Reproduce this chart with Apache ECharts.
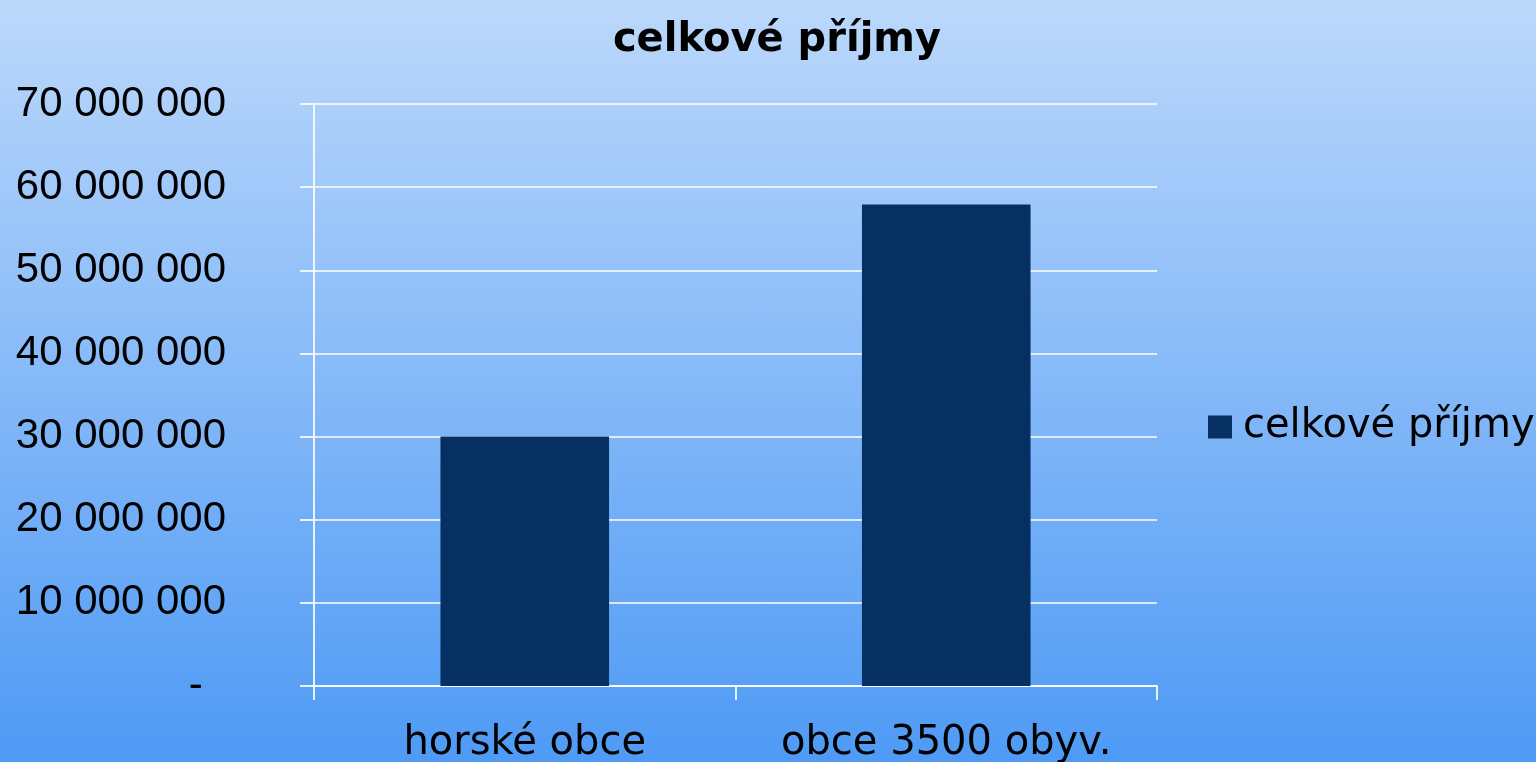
<!DOCTYPE html>
<html>
<head>
<meta charset="utf-8">
<script src="https://cdn.jsdelivr.net/npm/echarts@6/dist/echarts.min.js"></script>
<style>
    html, body { margin: 0; padding: 0; }
    #chart {
        width: 1536px;
        height: 762px;
        background: linear-gradient(to bottom, #bcd8fb 0%, #4e9af5 100%);
    }
</style>
</head>
<body>
<div id="chart"></div>
<script>
const titleText = 'celkové příjmy';
const seriesName = 'celkové příjmy';
const categories = ['horské obce', 'obce 3500 obyv.'];
const values = [30000000, 57900000];

const ins = echarts.init(document.getElementById('chart'));

function fmt(v) {
    if (v === 0) return '-  ';
    return String(v).replace(/\B(?=(\d{3})+(?!\d))/g, ' ');
}

const option = {
    backgroundColor: 'transparent',
    title: {
        text: titleText,
        left: 772,
        textAlign: 'center',
        top: 16,
        textStyle: {
            fontFamily: 'DejaVu Sans',
            fontWeight: 'bold',
            fontSize: 40,
            color: '#000'
        }
    },
    legend: {
        data: [seriesName],
        left: 1203,
        top: 402,
        itemWidth: 24,
        itemHeight: 23,
        icon: 'rect',
        textStyle: {
            fontFamily: 'DejaVu Sans',
            fontSize: 40,
            color: '#000',
            padding: [0, 0, 0, 6]
        }
    },
    grid: {
        left: 314,
        right: 379,
        top: 104,
        bottom: 76,
        containLabel: false,
        outerBoundsMode: 'none'
    },
    xAxis: {
        type: 'category',
        data: categories,
        axisLine: { lineStyle: { color: 'rgba(255,255,255,0.85)', width: 2 } },
        axisTick: { show: true, alignWithLabel: false, length: 14, lineStyle: { color: 'rgba(255,255,255,0.85)', width: 2 } },
        axisLabel: {
            interval: 0,
            hideOverlap: false,
            margin: 38,
            fontFamily: 'DejaVu Sans',
            fontSize: 40,
            color: '#000'
        }
    },
    yAxis: {
        type: 'value',
        min: 0,
        max: 70000000,
        interval: 10000000,
        axisLine: { show: true, lineStyle: { color: 'rgba(255,255,255,0.85)', width: 2 } },
        axisTick: { show: true, length: 14, lineStyle: { color: 'rgba(255,255,255,0.85)', width: 2 } },
        splitLine: { lineStyle: { color: 'rgba(255,255,255,0.75)', width: 2 } },
        axisLabel: {
            margin: 88,
            formatter: fmt,
            fontFamily: 'Liberation Sans',
            fontSize: 42,
            color: '#000'
        }
    },
    series: [{
        name: seriesName,
        type: 'bar',
        data: values,
        barWidth: '40%',
        itemStyle: { color: '#063061' }
    }]
};
ins.setOption(option);
</script>
</body>
</html>
